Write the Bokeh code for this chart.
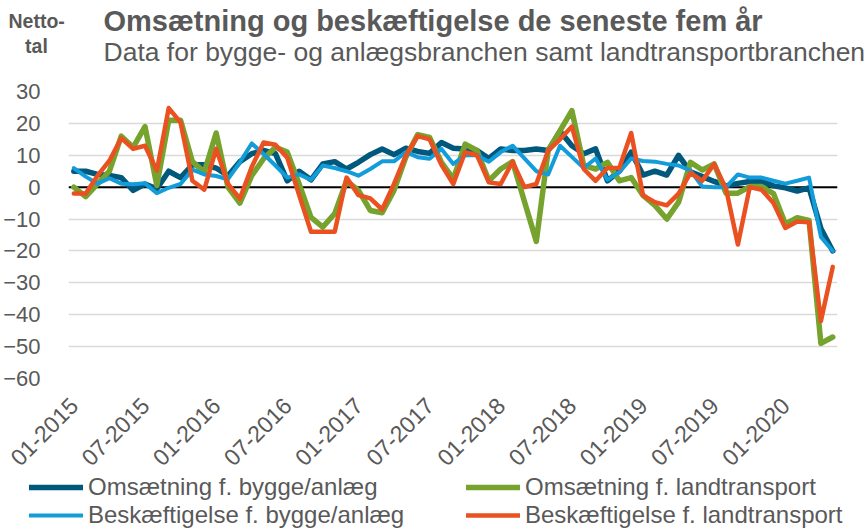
import math
from bokeh.plotting import figure
from bokeh.layouts import column
from bokeh.models import Range1d, FixedTicker, Span, Legend, LegendItem, ColumnDataSource
from bokeh.core.properties import value
from bokeh.embed import file_html
from bokeh.resources import INLINE

# Monthly observations, 01-2015 .. 05-2020 (index = month number)
months = list(range(65))
tick_idx = [0, 6, 12, 18, 24, 30, 36, 42, 48, 54, 60]
tick_labels = ["01-2015", "07-2015", "01-2016", "07-2016", "01-2017", "07-2017",
               "01-2018", "07-2018", "01-2019", "07-2019", "01-2020"]
y_ticks = [-60, -50, -40, -30, -20, -10, 0, 10, 20, 30]

oms_bygge = [5, 5, 4, 3.7, 3, -1, 1, -0.5, 5, 3,
             7, 7, 6, 3.6, 8, 10.5, 11.5, 10.5, 2, 5,
             2.3, 7.3, 8, 5.7, 7.8, 10.2, 12, 10.2, 12.2, 11.2,
             10.6, 14, 12.2, 12, 11.5, 9, 12, 11.5, 11.5, 12,
             11.5, 17.5, 13, 10.5, 12, 2, 5, 11, 3.8, 5,
             3.8, 10, 4.8, 3.3, 1.8, 0.4, 1.2, 1.8, 1.8, 0.4,
             -0.2, -1.2, -0.2, -13, -20]
oms_land = [0, -3, 1, 5, 16, 12.5, 19, 0.5, 21, 21,
            8, 4.7, 17, 0, -5, 3.6, 8.9, 12.5, 11, 1,
            -9.5, -12.5, -8.3, 2, -1, -7.3, -8, -1, 9.4, 16.5,
            15.6, 7.8, 2.6, 13.5, 11.5, 2, 5.7, 8, -4.5, -17,
            11.5, 17.7, 24, 6.8, 5.7, 7.8, 2, 3, -2.6, -5.7,
            -10, -4.7, 7.8, 5.4, 7.3, -1.9, -1.9, 0.2, 0.2, -2,
            -11.5, -9.6, -10.4, -49, -47]
besk_bygge = [6, 3.3, 1.1, 2.8, 1.1, 0.9, 1.2, -1.9, -0.2, 1,
              5.5, 4, 3.5, 2.5, 7.8, 13.7, 10.4, 6.8, 3, 4,
              2.3, 6.8, 6, 5, 3.6, 5.7, 8.1, 8.1, 11, 9.4,
              8.9, 12, 7.3, 10, 10, 8, 11, 13, 9, 5,
              4, 13, 9.5, 6, 9, 2.3, 4.7, 9, 8.2, 8,
              7.3, 6.8, 5.2, 0.2, 0, 0, 4, 3, 3, 2,
              1.1, 2, 3, -15.6, -20]
besk_land = [-2, -2, 3.6, 8.3, 15.4, 12, 13, 5.2, 24.8, 20.3,
             2, -0.8, 12, 1, -3.6, 6.3, 14, 13.3, 9.2, -2.5,
             -14, -14, -14, 3, -2.5, -3.5, -7, 1, 10, 16,
             15, 7, 1, 11, 10, 1.5, 1, 8, 0, 1,
             11.5, 15, 19, 5.7, 2, 6, 6, 17, -2.6, -4.7,
             -5.7, -2, 4.5, 2, 7.3, -0.5, -18, 0, -0.8, -5,
             -12.8, -10.8, -11, -42, -25]

names = ["Omsætning f. bygge/anlæg", "Omsætning f. landtransport",
         "Beskæftigelse f. bygge/anlæg", "Beskæftigelse f. landtransport"]
colors = ["#00587C", "#76A22E", "#129CDA", "#EA5121"]
widths = [5.5, 5.5, 4, 4.5]

FONT = "Liberation Sans"
GRAY = "#595959"
W = 866
HEAD_H, MAIN_H, FOOT_H = 76, 316, 137
B_LEFT, B_RIGHT, B_TOP, B_BOTTOM = 68, 29, 15, 14
X0, X1 = -0.45, 64.4


def bare(fig):
    fig.outline_line_color = None
    fig.background_fill_color = "white"
    fig.border_fill_color = "white"
    fig.frame_align = False
    return fig


# ---------- header (titles) ----------
head = bare(figure(width=W, height=HEAD_H, output_backend="svg", toolbar_location=None,
                   x_range=Range1d(0, W), y_range=Range1d(HEAD_H, 0), min_border=0,
                   x_axis_location=None, y_axis_location=None))
head.grid.visible = False


def htext(fig, x, y, txt, size, bold=False, align="left", baseline="alphabetic"):
    fig.text(x=[x], y=[y], text=[txt], text_font=value(FONT), text_font_size=size,
             text_font_style="bold" if bold else "normal", text_color=GRAY,
             text_align=align, text_baseline=baseline)


htext(head, 8, 20, "Netto-", "19.5px", bold=True)
htext(head, 36, 45, "tal", "19.5px", bold=True, align="center")
htext(head, 103, 20, "Omsætning og beskæftigelse de seneste fem år", "29px", bold=True)
htext(head, 103, 51, "Data for bygge- og anlægsbranchen samt landtransportbranchen", "26.5px")

# ---------- main chart ----------
p = bare(figure(width=W, height=MAIN_H, output_backend="svg", toolbar_location=None,
                x_range=Range1d(X0, X1), y_range=Range1d(-60, 30),
                min_border_left=B_LEFT, min_border_right=B_RIGHT,
                min_border_top=B_TOP, min_border_bottom=B_BOTTOM,
                x_axis_location=None))
p.xgrid.visible = False
p.ygrid.grid_line_color = "#D9D9D9"
p.ygrid.grid_line_width = 1.3
p.yaxis.ticker = FixedTicker(ticks=y_ticks)
p.yaxis.axis_line_color = None
p.yaxis.major_tick_line_color = None
p.yaxis.minor_tick_line_color = None
p.yaxis.major_label_standoff = 22
p.yaxis.major_label_text_font = FONT
p.yaxis.major_label_text_font_size = "22px"
p.yaxis.major_label_text_color = GRAY

p.add_layout(Span(location=0, dimension="width", line_color="black", line_width=2,
                  level="underlay"))

series = [oms_bygge, oms_land, besk_bygge, besk_land]
for vals, c, w in zip(series, colors, widths):
    p.line(months, vals, line_color=c, line_width=w, line_join="round", line_cap="round")

# ---------- footer: x labels + legend ----------
frame_w = W - B_LEFT - B_RIGHT
px_per = frame_w / (X1 - X0)
fx0 = X0 - B_LEFT / px_per
fx1 = X1 + B_RIGHT / px_per
foot = bare(figure(width=W, height=FOOT_H, output_backend="svg", toolbar_location=None,
                   x_range=Range1d(fx0, fx1), y_range=Range1d(FOOT_H, 0), min_border=0,
                   x_axis_location=None, y_axis_location=None))
foot.grid.visible = False

lab_src = ColumnDataSource(dict(x=tick_idx, y=[9] * len(tick_idx), text=tick_labels))
foot.text(x="x", y="y", text="text", source=lab_src, angle=math.pi / 4,
          text_font=value(FONT), text_font_size="23px", text_color=GRAY,
          text_align="right", text_baseline="middle")

# legend-only renderers (no visible points)
nan = float("nan")
dummies = []
for c, w in zip(colors, widths):
    dummies.append(foot.line(x=[nan, nan], y=[nan, nan], line_color=c, line_width=w,
                             line_cap="round"))


def make_legend(idx, loc):
    lg = Legend(items=[LegendItem(label=names[i], renderers=[dummies[i]]) for i in idx],
                location=loc, orientation="vertical")
    lg.padding = 0
    lg.margin = 0
    lg.spacing = 0
    lg.glyph_width = 54
    lg.glyph_height = 24
    lg.label_height = 24
    lg.label_standoff = 5
    lg.label_text_font = FONT
    lg.label_text_font_size = "24px"
    lg.label_text_color = GRAY
    lg.border_line_color = None
    lg.background_fill_alpha = 0
    return lg


foot.add_layout(make_legend([0, 2], (29, 0)))
foot.add_layout(make_legend([1, 3], (466, 0)))

page = column(head, p, foot, spacing=0)
open("out.html", "w").write(file_html(page, INLINE))
